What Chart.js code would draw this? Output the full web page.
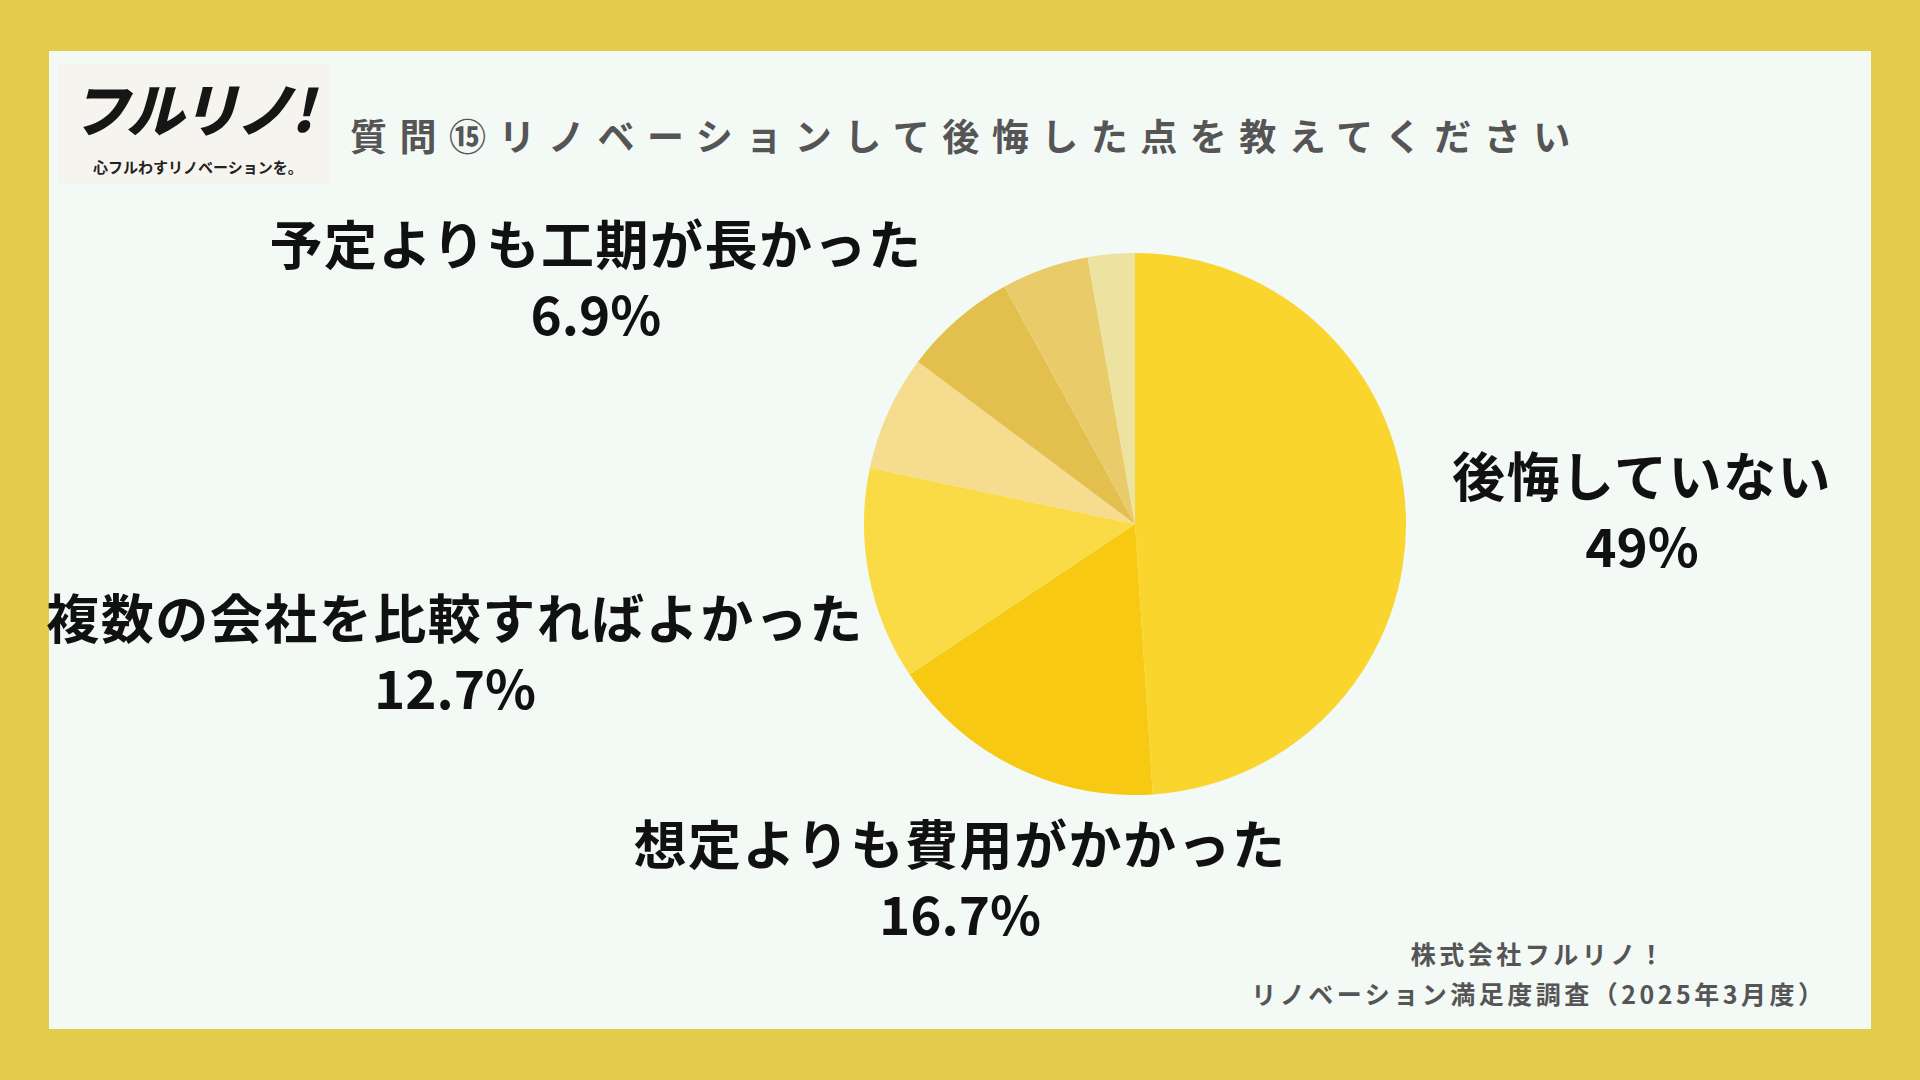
<!DOCTYPE html>
<html><head><meta charset="utf-8">
<script src="https://cdn.jsdelivr.net/npm/chart.js@4"></script>
<style>
html,body{margin:0;padding:0;width:1920px;height:1080px;background:#E4CD4C;overflow:hidden;font-family:"Noto Sans CJK JP","Noto Sans",sans-serif;}
#panel{position:absolute;left:49px;top:51px;width:1822px;height:978px;background:#F3F9F5;}
.t{position:absolute;white-space:nowrap;transform:translateX(-50%);text-align:center;}
.lbl{font-weight:700;font-size:53px;color:#111;line-height:1.2;}
#logo{position:absolute;left:59px;top:64px;width:272px;height:120px;background:#F6F4EE;}
</style></head><body>
<div id="panel"></div>
<div id="logo">
 <div style="position:absolute;left:12px;top:14px;font-size:58px;font-weight:900;font-style:italic;letter-spacing:-3px;color:#161616;line-height:1;white-space:nowrap">フルリノ!</div>
 <div style="position:absolute;left:34px;top:92px;font-size:15px;font-weight:700;color:#222;white-space:nowrap">心フルわすリノベーションを。</div>
</div>
<div style="position:absolute;left:350px;top:108px;font-size:37px;font-weight:700;color:#555;letter-spacing:12.5px;white-space:nowrap">質問⑮リノベーションして後悔した点を教えてください</div>
<div style="position:absolute;left:864px;top:253px;width:542px;height:542px;"><canvas id="c"></canvas></div>
<div id="labels"></div>
<div class="t" style="left:1539px;top:933px;font-size:25px;font-weight:700;color:#555;line-height:40px;letter-spacing:3.5px">株式会社フルリノ！<br>リノベーション満足度調査（2025年3月度）</div>
<script>
const categories=["後悔していない","想定よりも費用がかかった","複数の会社を比較すればよかった","予定よりも工期が長かった","その他A","その他B","その他C"];
const values=[49,16.7,12.7,6.9,6.8,5.2,2.8];
const colors=["#F9D52E","#F7C913","#FADB45","#F5DC8E","#E3C04E","#EACB6A","#EDE3A0"];
const labelShown=[0,1,2,3];
const labelPos=[[1642,443],[960,811],[455,585],[596,211]];
new Chart(document.getElementById('c'),{type:'pie',
 data:{labels:categories,datasets:[{data:values,backgroundColor:colors,borderWidth:0}]},
 options:{responsive:true,maintainAspectRatio:true,animation:false,layout:{padding:0},
  plugins:{legend:{display:false},tooltip:{enabled:false}}}});
const L=document.getElementById('labels');
labelShown.forEach((i,k)=>{const d=document.createElement('div');d.className='t lbl';
 d.style.left=labelPos[k][0]+'px';d.style.top=labelPos[k][1]+'px';
 d.innerHTML='<div style="letter-spacing:1.5px">'+categories[i]+'</div><div style="margin-top:6px">'+values[i]+'%</div>';L.appendChild(d);});
</script>
</body></html>
